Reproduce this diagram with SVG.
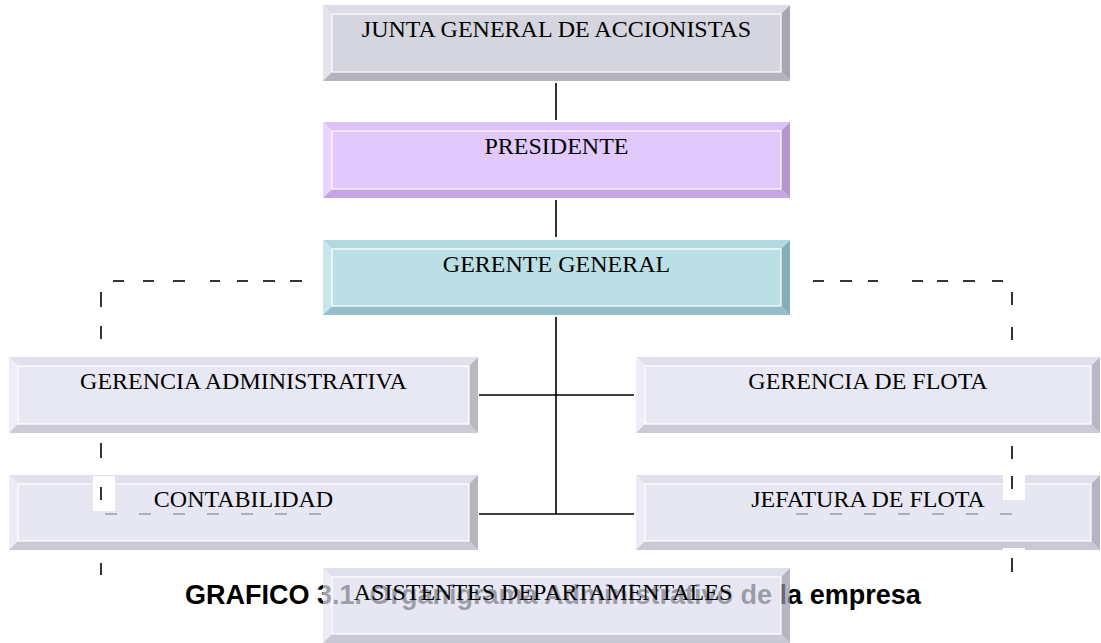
<svg xmlns="http://www.w3.org/2000/svg" width="1101" height="643" viewBox="0 0 1101 643">
<style>
.lbl{font-family:"Liberation Serif","Times New Roman",serif;font-size:24px;fill:#000;text-anchor:middle}
.cap{font-family:"Liberation Sans",Arial,sans-serif;font-size:27px;font-weight:bold;fill:#000}
.solid{stroke:#000;stroke-width:1.6;fill:none}
.dash{stroke:#000;stroke-width:1.6;fill:none}
.hid{stroke:#000;stroke-width:1.6;fill:none;stroke-dasharray:12 22}
.inner{stroke:#fff;stroke-width:1.2}
.j-face{fill:#d5d5df}.j-top{fill:#dcdce6}.j-left{fill:#e3e3eb}.j-bot{fill:#b4b4c0}.j-right{fill:#a7a7b3}
.p-face{fill:#e2c9fc}.p-top{fill:#dcc0f8}.p-left{fill:#e8d4fd}.p-bot{fill:#c5a6e3}.p-right{fill:#b298cf}
.g-face{fill:#bcdfe5}.g-top{fill:#b2d9e0}.g-left{fill:#c8e6eb}.g-bot{fill:#95bec8}.g-right{fill:#87adb6}
.l-face{fill:#e8e8f4}.l-top{fill:#e1e1ed}.l-left{fill:#ededf7}.l-bot{fill:#cbcbd7}.l-right{fill:#b8b8c4}
.glass{opacity:0.7}
.t-face{fill:#dedeef}.t-top{fill:#d3d3e4}.t-left{fill:#e4e4f2}.t-bot{fill:#b3b3c5}.t-right{fill:#9797a8}
.patch{fill:#fff}
</style>
<g id="connectors">
<line class="solid" x1="556" y1="83" x2="556" y2="120"/>
<line class="solid" x1="556" y1="200" x2="556" y2="237"/>
<line class="solid" x1="556" y1="317" x2="556" y2="514"/>
<line class="solid" x1="479" y1="395" x2="634" y2="395"/>
<line class="solid" x1="479" y1="514" x2="634" y2="514"/>
<g id="dash-left">
<line class="dash" x1="113" y1="281" x2="124" y2="281"/>
<line class="dash" x1="143" y1="281" x2="154" y2="281"/>
<line class="dash" x1="173" y1="281" x2="185" y2="281"/>
<line class="dash" x1="210" y1="281" x2="220" y2="281"/>
<line class="dash" x1="237" y1="281" x2="248" y2="281"/>
<line class="dash" x1="263" y1="281" x2="275" y2="281"/>
<line class="dash" x1="290" y1="281" x2="302" y2="281"/>
<line class="dash" x1="101" y1="292" x2="101" y2="307"/>
<line class="dash" x1="101" y1="326" x2="101" y2="339"/>
<line class="dash" x1="101" y1="443" x2="101" y2="458"/>
<line class="dash" x1="101" y1="563" x2="101" y2="575"/>
<line class="hid" x1="105" y1="514" x2="322" y2="514"/>
</g>
<g id="dash-right">
<line class="dash" x1="813" y1="281" x2="824" y2="281"/>
<line class="dash" x1="840" y1="281" x2="852" y2="281"/>
<line class="dash" x1="868" y1="281" x2="878" y2="281"/>
<line class="dash" x1="912" y1="281" x2="923" y2="281"/>
<line class="dash" x1="937" y1="281" x2="948" y2="281"/>
<line class="dash" x1="963" y1="281" x2="975" y2="281"/>
<line class="dash" x1="992" y1="281" x2="1003" y2="281"/>
<line class="dash" x1="1012" y1="292" x2="1012" y2="305"/>
<line class="dash" x1="1012" y1="327" x2="1012" y2="340"/>
<line class="dash" x1="1012" y1="446" x2="1012" y2="459"/>
<line class="hid" x1="796" y1="514" x2="1012" y2="514"/>
</g>
</g>
<g id="caption">
<text class="cap" x="185" y="604">GRAFICO 3.1. Organigrama Administrativo de la empresa</text>
</g>
<g id="junta">
<polygon class="j-top" points="323,5 790,5 781,14 332,14"/>
<polygon class="j-left" points="323,5 332,14 332,72 323,81"/>
<polygon class="j-bot" points="323,81 332,72 781,72 790,81"/>
<polygon class="j-right" points="790,5 790,81 781,72 781,14"/>
<rect class="j-face inner" x="332" y="14" width="449" height="58"/>
<text class="lbl" x="556.5" y="37">JUNTA GENERAL DE ACCIONISTAS</text>
</g>
<g id="presidente">
<polygon class="p-top" points="323,122 790,122 781,131 332,131"/>
<polygon class="p-left" points="323,122 332,131 332,189 323,198"/>
<polygon class="p-bot" points="323,198 332,189 781,189 790,198"/>
<polygon class="p-right" points="790,122 790,198 781,189 781,131"/>
<rect class="p-face inner" x="332" y="131" width="449" height="58"/>
<text class="lbl" x="556.5" y="154">PRESIDENTE</text>
</g>
<g id="gerente-general">
<polygon class="g-top" points="323,240 790,240 781,249 332,249"/>
<polygon class="g-left" points="323,240 332,249 332,306 323,315"/>
<polygon class="g-bot" points="323,315 332,306 781,306 790,315"/>
<polygon class="g-right" points="790,240 790,315 781,306 781,249"/>
<rect class="g-face inner" x="332" y="249" width="449" height="57"/>
<text class="lbl" x="556.5" y="272">GERENTE GENERAL</text>
</g>
<g id="gerencia-administrativa">
<polygon class="l-top" points="9,357 478,357 469,366 18,366"/>
<polygon class="l-left" points="9,357 18,366 18,424 9,433"/>
<polygon class="l-bot" points="9,433 18,424 469,424 478,433"/>
<polygon class="l-right" points="478,357 478,433 469,424 469,366"/>
<rect class="l-face inner" x="18" y="366" width="451" height="58"/>
<text class="lbl" x="243.5" y="389">GERENCIA ADMINISTRATIVA</text>
</g>
<g id="gerencia-flota">
<polygon class="l-top" points="636,357 1100,357 1091,366 645,366"/>
<polygon class="l-left" points="636,357 645,366 645,424 636,433"/>
<polygon class="l-bot" points="636,433 645,424 1091,424 1100,433"/>
<polygon class="l-right" points="1100,357 1100,433 1091,424 1091,366"/>
<rect class="l-face inner" x="645" y="366" width="446" height="58"/>
<text class="lbl" x="868" y="389">GERENCIA DE FLOTA</text>
</g>
<g id="contabilidad">
<g class="glass">
<polygon class="t-top" points="9,475 478,475 469,484 18,484"/>
<polygon class="t-left" points="9,475 18,484 18,541 9,550"/>
<polygon class="t-bot" points="9,550 18,541 469,541 478,550"/>
<polygon class="t-right" points="478,475 478,550 469,541 469,484"/>
<rect class="t-face inner" x="18" y="484" width="451" height="57"/>
</g>
<rect class="patch" x="93" y="476" width="22" height="35"/>
<line class="dash" x1="101" y1="487" x2="101" y2="500"/>
<text class="lbl" x="243.5" y="507">CONTABILIDAD</text>
</g>
<g id="jefatura-flota">
<g class="glass">
<polygon class="t-top" points="636,475 1100,475 1091,484 645,484"/>
<polygon class="t-left" points="636,475 645,484 645,541 636,550"/>
<polygon class="t-bot" points="636,550 645,541 1091,541 1100,550"/>
<polygon class="t-right" points="1100,475 1100,550 1091,541 1091,484"/>
<rect class="t-face inner" x="645" y="484" width="446" height="57"/>
</g>
<rect class="patch" x="1003" y="475" width="22" height="25"/>
<line class="dash" x1="1012" y1="476" x2="1012" y2="489"/>
<rect class="patch" x="1003" y="548" width="22" height="27"/>
<line class="dash" x1="1012" y1="558" x2="1012" y2="572"/>
<text class="lbl" x="868" y="507">JEFATURA DE FLOTA</text>
</g>
<g id="asistentes">
<g class="glass">
<polygon class="t-top" points="323,568 790,568 781,577 332,577"/>
<polygon class="t-left" points="323,568 332,577 332,634 323,643"/>
<polygon class="t-bot" points="323,643 332,634 781,634 790,643"/>
<polygon class="t-right" points="790,568 790,643 781,634 781,577"/>
<rect class="t-face inner" x="332" y="577" width="449" height="57"/>
</g>
<text class="lbl" x="543" y="600">ASISTENTES DEPARTAMENTALES</text>
</g>
</svg>
